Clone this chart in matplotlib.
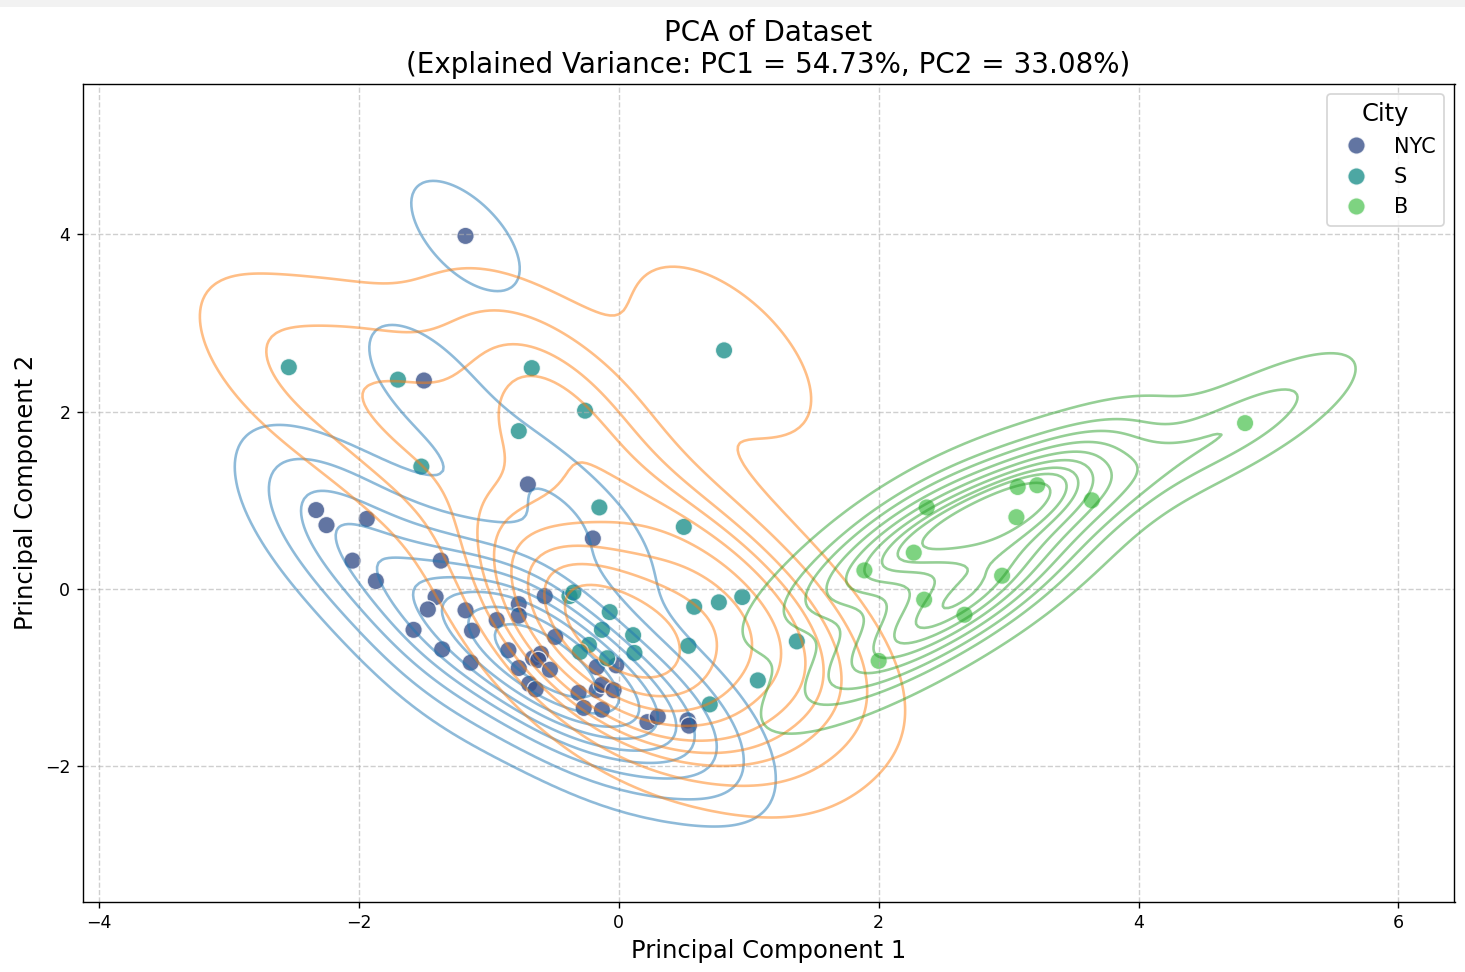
import matplotlib
matplotlib.use("Agg")
import matplotlib.pyplot as plt
from matplotlib.patches import Rectangle
import numpy as np
import pandas as pd
import seaborn as sns

# Scores
nyc_x = [-1.18, -1.50, -0.70, -0.20, -2.33, -2.25, -1.94, -2.05, -1.87, -1.37, -1.41,
         -1.47, -1.58, -1.36, -1.13, -1.14, -1.18, -0.94, -0.77, -0.77, -0.57, -0.49,
         -0.85, -0.77, -0.66, -0.60, -0.62, -0.53, -0.69, -0.64, -0.31, -0.27, -0.13,
         -0.17, -0.13, -0.04, -0.17, -0.02, 0.22, 0.30, 0.53, 0.54]
nyc_y = [3.98, 2.35, 1.18, 0.57, 0.89, 0.72, 0.79, 0.32, 0.09, 0.32, -0.09,
         -0.23, -0.46, -0.68, -0.47, -0.83, -0.24, -0.35, -0.17, -0.30, -0.08, -0.54,
         -0.69, -0.89, -0.78, -0.73, -0.80, -0.91, -1.07, -1.13, -1.17, -1.34, -1.36,
         -1.14, -1.08, -1.14, -0.88, -0.86, -1.50, -1.44, -1.48, -1.54]
s_x = [-2.54, -1.70, -0.67, -0.26, 0.81, -0.77, -1.52, -0.15, 0.50, -0.38, -0.35,
       -0.07, 0.58, 0.77, 0.95, -0.13, 0.11, 0.12, 0.535, -0.23, -0.30, -0.09, 0.70,
       1.07, 1.37]
s_y = [2.50, 2.36, 2.49, 2.01, 2.69, 1.78, 1.38, 0.92, 0.70, -0.08, -0.04,
       -0.26, -0.20, -0.15, -0.09, -0.46, -0.52, -0.72, -0.64, -0.63, -0.71, -0.78, -1.30,
       -1.03, -0.59]
b_x = [4.82, 3.64, 3.22, 3.07, 3.06, 2.37, 2.27, 1.89, 2.95, 2.35, 2.66, 2.00]
b_y = [1.87, 1.00, 1.17, 1.15, 0.81, 0.92, 0.41, 0.21, 0.15, -0.12, -0.29, -0.81]

cities = ["NYC", "S", "B"]
df = pd.DataFrame({
    "PC1": nyc_x + s_x + b_x,
    "PC2": nyc_y + s_y + b_y,
    "City": ["NYC"] * len(nyc_x) + ["S"] * len(s_x) + ["B"] * len(b_x),
})

W, H = 1465, 972
DPI = 125
fig = plt.figure(figsize=(W / DPI, H / DPI), dpi=DPI)
ax = fig.add_axes([82.5 / W, 1 - 901.5 / H, (1454.5 - 82.5) / W, (901.5 - 83.5) / H])

# strip at the top of the screenshot
fig.add_artist(Rectangle((0, 1 - 7 / H), 1, 7 / H, transform=fig.transFigure,
                         color="#f2f2f2", lw=0))

sns.kdeplot(data=df, x="PC1", y="PC2", hue="City", hue_order=cities, alpha=0.5,
            common_norm=False, palette=["tab:blue", "tab:orange", "tab:green"],
            legend=False, ax=ax)
sns.scatterplot(data=df, x="PC1", y="PC2", hue="City", hue_order=cities,
                palette="viridis", s=100, alpha=0.8, edgecolor="white", ax=ax)

ax.set_xlim(-4.128, 6.432)
ax.set_ylim(-3.522, 5.698)
ax.set_xticks([-4, -2, 0, 2, 4, 6])
ax.set_yticks([-2, 0, 2, 4])
ax.grid(True, linestyle="--", alpha=0.6)
ax.set_title("PCA of Dataset\n(Explained Variance: PC1 = 54.73%, PC2 = 33.08%)", fontsize=16)
ax.set_xlabel("Principal Component 1", fontsize=14)
ax.set_ylabel("Principal Component 2", fontsize=14)
ax.legend(title="City", loc="upper right", fontsize=12, title_fontsize=14)

fig.savefig("out.png", dpi=DPI)
